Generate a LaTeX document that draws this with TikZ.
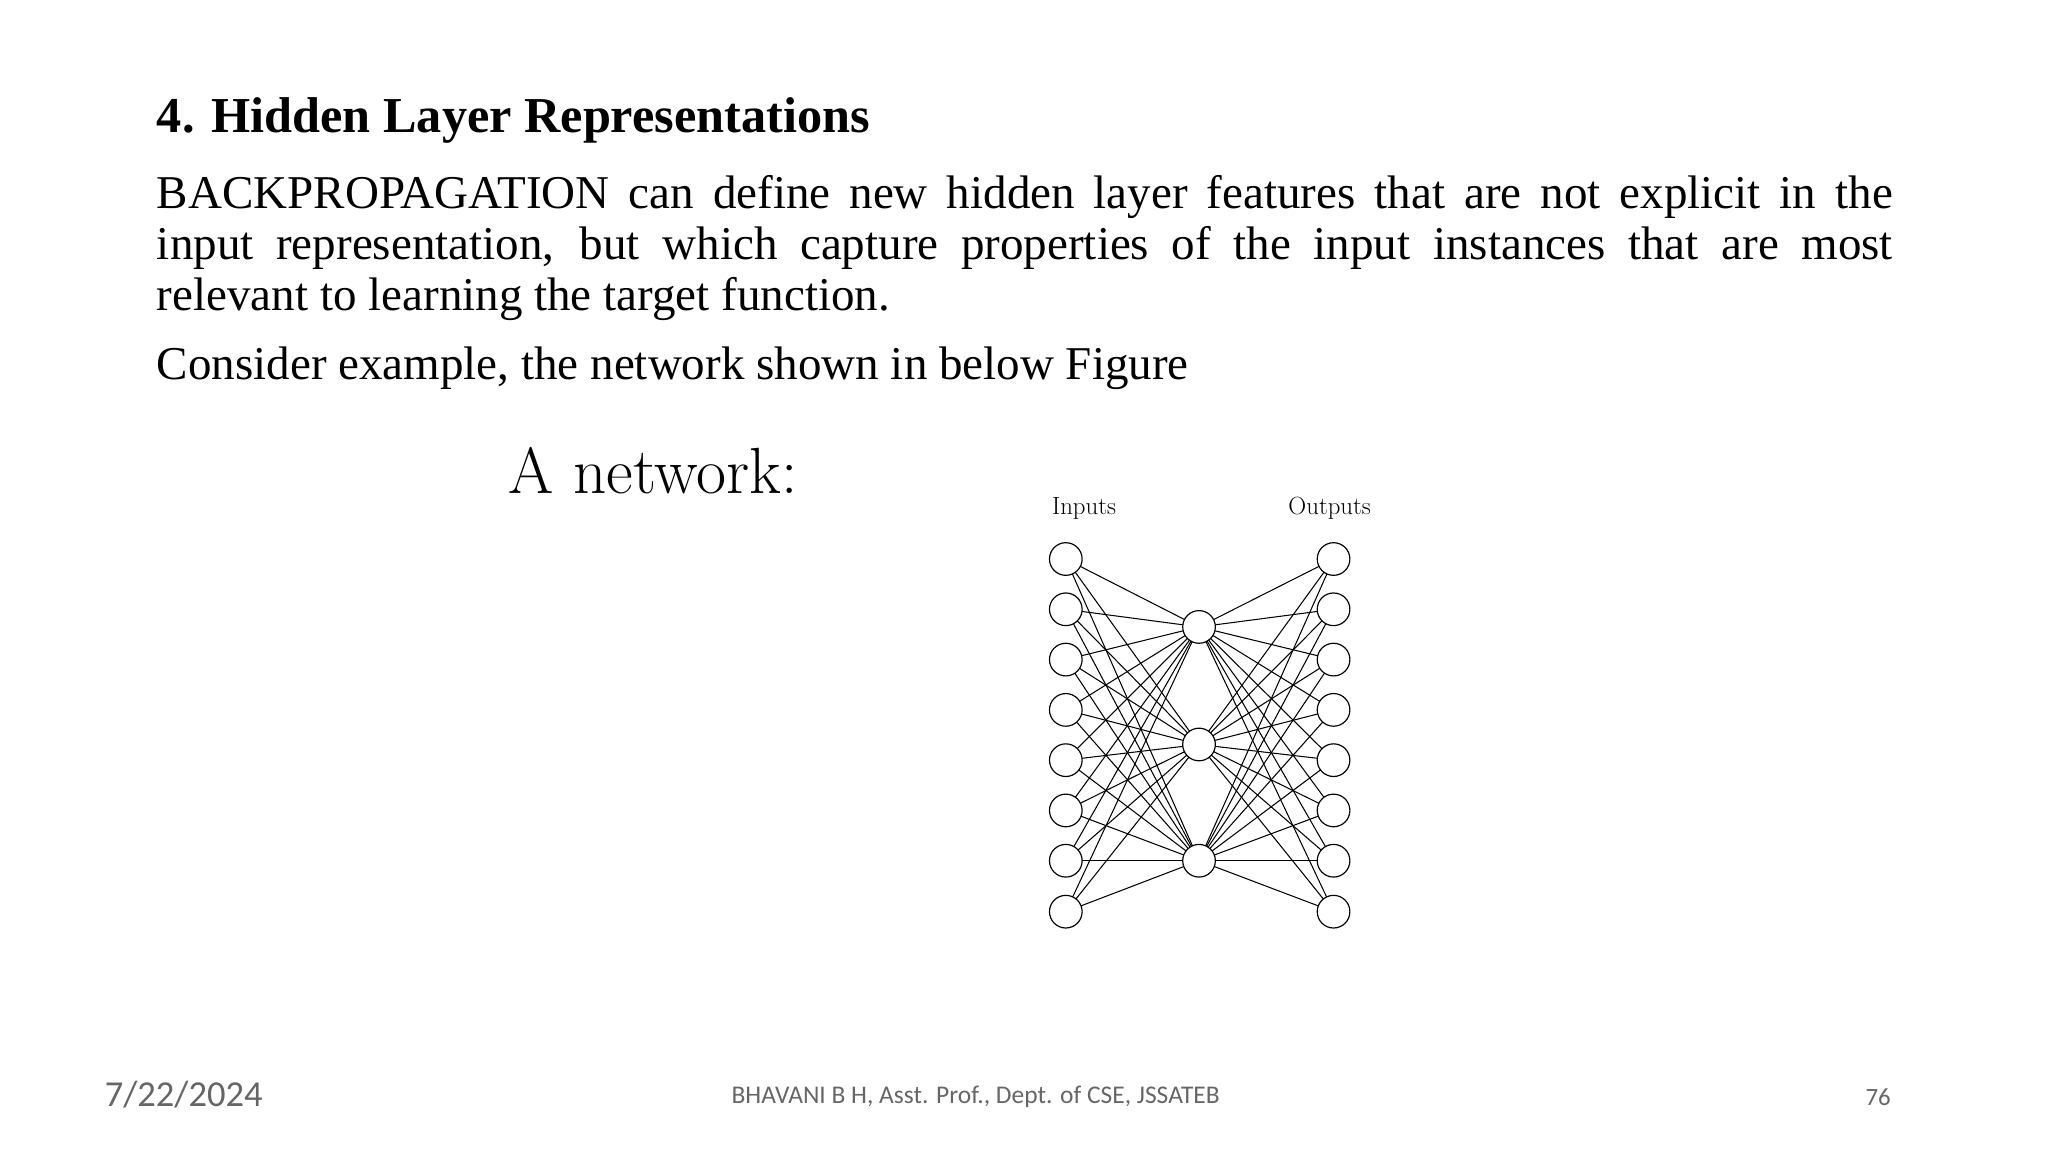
\documentclass[tikz,border=0pt]{standalone}
\usepackage{fontspec}
\setmainfont{Liberation Serif}
\newfontfamily\lmfont{Latin Modern Roman}
\newfontfamily\carfont{Carlito}
\begin{document}
\begin{tikzpicture}[x=1pt,y=-1pt,
  neuron/.style={circle,draw,line width=0.9pt,minimum size=25pt,inner sep=0pt,fill=white},
  conn/.style={line width=0.8pt},
  foot/.style={text=black!60,inner sep=0pt}]
\useasboundingbox (0,0) rectangle (1568,882);
\node[anchor=west,inner sep=0pt,font=\fontsize{38.5}{44}\selectfont\bfseries] (title) at (120,92) {4. Hidden Layer Representations};
\node[anchor=north west,inner sep=0pt,text width=1329pt,align=justify,font=\fontsize{36}{39}\selectfont] (body) at (120,134)
{\hyphenpenalty=10000 BACKPROPAGATION can define new hidden layer features that are not explicit in the\linebreak input representation, but which capture properties of the input instances that are most\linebreak relevant to learning the target function.\par};
\node[anchor=west,inner sep=0pt,font=\fontsize{36}{39}\selectfont] (cons) at (120,282) {Consider example, the network shown in below Figure};
\node[anchor=west,inner sep=0pt,font=\lmfont\fontsize{50}{56}\selectfont] (anet) at (389,360) {A network:};
\node[font=\lmfont\fontsize{19}{22}\selectfont] (inl) at (830,389) {Inputs};
\node[font=\lmfont\fontsize{19}{22}\selectfont] (outl) at (1018,389) {Outputs};
\foreach \i/\y in {1/428,2/466.5,3/505,4/543.5,5/582,6/620.5,7/659,8/698}{
  \coordinate (pi\i) at (816,\y);
  \coordinate (po\i) at (1021,\y);
}
\foreach \j/\y in {1/480,2/570,3/659}{\coordinate (ph\j) at (918,\y);}
\foreach \i in {1,...,8}{\foreach \j in {1,2,3}{
  \draw[conn] (pi\i) -- (ph\j);
  \draw[conn] (ph\j) -- (po\i);
}}
\foreach \i in {1,...,8}{
  \node[neuron] (in\i) at (pi\i) {};
  \node[neuron] (out\i) at (po\i) {};
}
\foreach \j in {1,2,3}{\node[neuron] (h\j) at (ph\j) {};}
\node[foot,anchor=west,font=\carfont\fontsize{28}{32}\selectfont] (date) at (80,838) {7/22/2024};
\node[foot,font=\carfont\fontsize{19.5}{22}\selectfont] (auth) at (747,840) {BHAVANI B H, Asst. Prof., Dept. of CSE, JSSATEB};
\node[foot,font=\carfont\fontsize{19}{22}\selectfont] (pg) at (1438,840) {76};
\end{tikzpicture}
\end{document}
